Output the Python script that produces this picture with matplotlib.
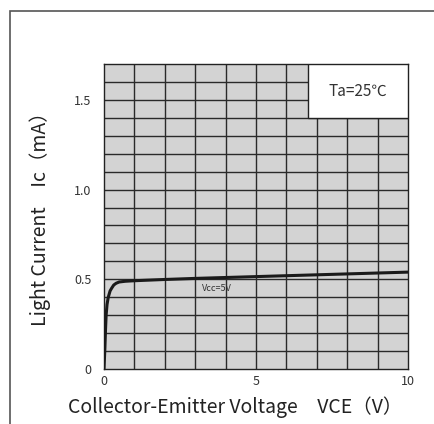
import matplotlib
matplotlib.use('Agg')
import matplotlib.pyplot as plt
import numpy as np
from matplotlib.patches import Rectangle

plt.rcParams['font.family'] = ['Noto Sans CJK JP', 'DejaVu Sans']

# curve
vce = [0.0, 0.03, 0.05, 0.07, 0.1, 0.14, 0.2, 0.25, 0.32, 0.4, 0.5, 0.7, 1.0, 2.0, 3.0, 4.0, 5.0, 6.0, 7.0, 8.0, 9.0, 10.0]
ic = [0.0, 0.12, 0.22, 0.30, 0.36, 0.40, 0.435, 0.45, 0.468, 0.478, 0.485, 0.489, 0.492, 0.499, 0.505, 0.51, 0.515, 0.52, 0.525, 0.53, 0.535, 0.54]

xticks = [0, 5, 10]
yticks = [0, 0.5, 1.0, 1.5]
ytick_labels = ['0', '0.5', '1.0', '1.5']

fig = plt.figure(figsize=(4.35, 4.24), dpi=100)

# outer frame (only left and top edges show)
fig.add_artist(Rectangle((10/435, -0.1), 1.2, 1 - 11/424 + 0.1, transform=fig.transFigure,
                         fill=False, edgecolor='#555555', linewidth=1.2))

ax = fig.add_axes([104/435, 1 - 369/424, 304/435, 305/424])
ax.set_facecolor('#d3d3d3')
ax.set_xlim(0, 10)
ax.set_ylim(0, 1.7)

for x in np.arange(1, 10):
    ax.axvline(x, color='#2a2a2a', lw=1.0, zorder=1)
for y in np.arange(0.1, 1.7, 0.1):
    ax.axhline(y, color='#2a2a2a', lw=1.0, zorder=1)

for s in ax.spines.values():
    s.set_color('#222222')
    s.set_linewidth(1.0)

ax.plot(vce, ic, color='#1a1a1a', lw=2.2, zorder=3)

ax.text(3.7, 0.45, 'Vcc=5V', fontsize=6.5, color='#333333', ha='center', va='center', zorder=4)

ax.add_patch(Rectangle((6.7, 1.4), 3.3, 0.3, facecolor='white', edgecolor='#222222', lw=1.0, zorder=4))
ax.text(8.35, 1.55, 'Ta=25℃', fontsize=11, color='#333333', ha='center', va='center', zorder=5)

ax.set_xticks(xticks)
ax.set_xticklabels([str(t) for t in xticks])
ax.set_yticks(yticks)
ax.set_yticklabels(ytick_labels)
ax.tick_params(length=0, labelsize=9, colors='#333333')
ax.tick_params(axis='x', pad=4)
ax.tick_params(axis='y', pad=9)

fig.text(235/435, 1 - 407/424, 'Collector-Emitter Voltage\u3000VCE（V）', fontsize=14,
         ha='center', va='center', color='#222222')
fig.text(40/435, 1 - 214/424, 'Light Current\u3000Ic（mA）', fontsize=14, rotation=90,
         ha='center', va='center', color='#222222')

fig.savefig('out.png', dpi=100)
